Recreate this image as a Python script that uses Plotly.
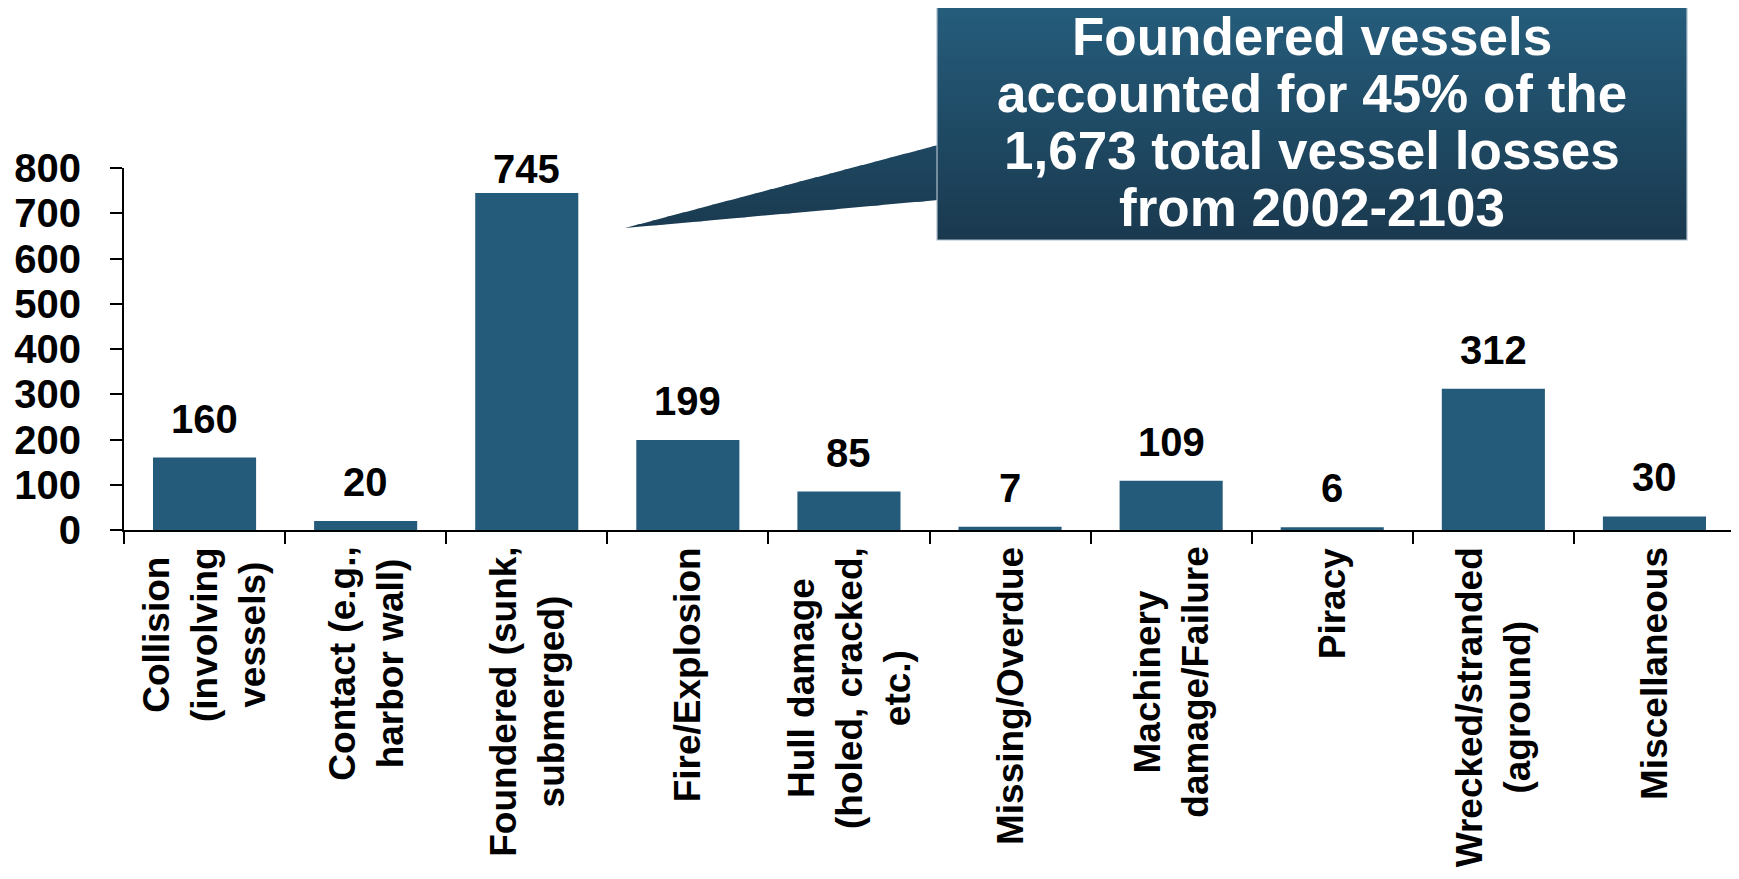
import plotly.graph_objects as go

categories = [
    "Collision<br>(involving<br>vessels)",
    "Contact (e.g.,<br>harbor wall)",
    "Foundered (sunk,<br>submerged)",
    "Fire/Explosion",
    "Hull damage<br>(holed, cracked,<br>etc.)",
    "Missing/Overdue",
    "Machinery<br>damage/Failure",
    "Piracy",
    "Wrecked/stranded<br>(aground)",
    "Miscellaneous",
]
losses = [160, 20, 745, 199, 85, 7, 109, 6, 312, 30]
y_ticks = [0, 100, 200, 300, 400, 500, 600, 700, 800]
callout_lines = [
    "Foundered vessels",
    "accounted for 45% of the",
    "1,673 total vessel losses",
    "from 2002-2103",
]

# page has an 8px body margin; screen-space layout below
OFF = 8
SW, SH = 1739, 879
W, H = SW - OFF, SH - OFF
L, R, T, B = 124, 1735, 168, 530  # plot area in screen pixels
FONT = "Liberation Sans, Arial, sans-serif"
BAR = "#245B7A"

def px(x):
    return (x - L) / (R - L)

def py(y):
    return (B - y) / (B - T)

fig = go.Figure()
fig.add_trace(go.Bar(x=categories, y=losses, marker=dict(color=BAR, line=dict(width=0)),
                     hoverinfo="x+y"))

ann = []
for c, v in zip(categories, losses):
    shift = 0 if v > 700 else 15
    ann.append(dict(x=c, y=v, xref="x", yref="y", text=str(v), showarrow=False,
                    yanchor="bottom", yshift=shift,
                    font=dict(family=FONT, size=40, color="black", weight="bold")))
    ann.append(dict(x=c, y=0, xref="x", yref="paper", text=c, showarrow=False,
                    yanchor="top", xanchor="center", yshift=-15, textangle=-90, align="center",
                    font=dict(family=FONT, size=37, color="black", weight="bold")))

# callout gradient box
shapes = []
top_c = (0x25, 0x5D, 0x7C)
bot_c = (0x1A, 0x39, 0x4F)
bx0, bx1, by0, by1 = 937, 1687, 5, 240
n = 60
def col_at(y):
    t = min(max((y - by0) / (by1 - by0), 0), 1)
    return "rgb(%d,%d,%d)" % tuple(round(a + (b - a) * t) for a, b in zip(top_c, bot_c))

for i in range(n):
    y0 = by0 + (by1 - by0) * i / n
    y1 = by0 + (by1 - by0) * (i + 1) / n
    shapes.append(dict(type="rect", xref="paper", yref="paper", x0=px(bx0), x1=px(bx1),
                       y0=py(y0), y1=py(min(y1 + 0.8, by1)), fillcolor=col_at((y0 + y1) / 2),
                       line=dict(width=0), layer="above"))

# pointer (triangle) clipped into bands for the gradient
tri = [(bx0 + 1, 145), (bx0 + 1, 200), (625, 228)]

def clip(poly, ylo, yhi):
    def clip_half(pts, keep, yc):
        out = []
        for i in range(len(pts)):
            p, q = pts[i], pts[(i + 1) % len(pts)]
            pin, qin = keep(p[1]), keep(q[1])
            if pin:
                out.append(p)
            if pin != qin:
                t = (yc - p[1]) / (q[1] - p[1])
                out.append((p[0] + t * (q[0] - p[0]), yc))
        return out
    pts = clip_half(poly, lambda y: y >= ylo, ylo)
    if not pts:
        return pts
    return clip_half(pts, lambda y: y <= yhi, yhi)

for i in range(n):
    y0 = by0 + (by1 - by0) * i / n
    y1 = by0 + (by1 - by0) * (i + 1) / n
    poly = clip(tri, y0, y1 + 0.8)
    if len(poly) < 3:
        continue
    path = "M " + " L ".join(f"{px(x):.6f},{py(y):.6f}" for x, y in poly) + " Z"
    shapes.append(dict(type="path", xref="paper", yref="paper", path=path,
                       fillcolor=col_at((y0 + y1) / 2), line=dict(width=0), layer="above"))

shapes.append(dict(type="rect", xref="paper", yref="paper", x0=px(bx0), x1=px(bx1),
                   y0=py(by0), y1=py(by1), fillcolor="rgba(0,0,0,0)",
                   line=dict(width=1.2, color="#AEBFCC"), layer="above"))

baselines = [55, 112, 169, 226]
for line, bl in zip(callout_lines, baselines):
    ann.append(dict(x=px((bx0 + bx1) / 2), y=py(bl - 19), xref="paper", yref="paper",
                    text=line, showarrow=False, xanchor="center", yanchor="middle",
                    font=dict(family=FONT, size=53, color="white", weight="bold")))

fig.update_layout(
    width=W, height=H,
    margin=dict(l=L - OFF, r=SW - R, t=T - OFF, b=SH - B, autoexpand=False),
    paper_bgcolor="white", plot_bgcolor="white",
    bargap=0.36, showlegend=False,
    annotations=ann, shapes=shapes,
    font=dict(family=FONT, color="black"),
)
fig.update_xaxes(type="category", showticklabels=False, tickson="boundaries",
                 ticks="outside", ticklen=12, tickwidth=2, tickcolor="black",
                 showline=True, linecolor="black", linewidth=2, showgrid=False,
                 zeroline=False, automargin=False)
fig.update_yaxes(range=[0, 800], tickvals=y_ticks, ticks="outside", ticklen=12, tickwidth=2,
                 tickcolor="black", showline=True, linecolor="black", linewidth=2,
                 showgrid=False, zeroline=False, automargin=False,
                 tickfont=dict(family=FONT, size=40, color="black", weight="bold"),
                 ticklabelstandoff=21)

fig.write_html("out.html")
